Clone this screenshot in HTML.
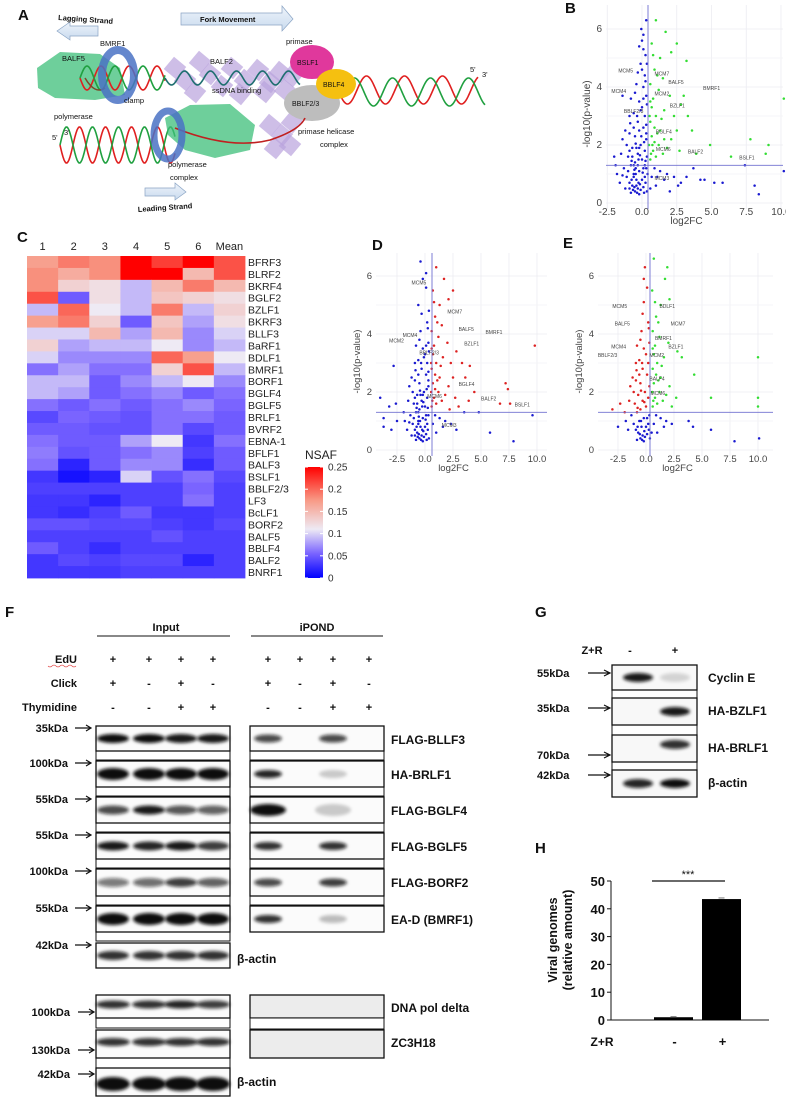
<!DOCTYPE html>
<html><head><meta charset="utf-8">
<style>
html,body{margin:0;padding:0;background:#fff;}
svg{display:block;font-family:"Liberation Sans",Arial,sans-serif;}
</style></head>
<body>
<svg id="fig" width="786" height="1102" viewBox="0 0 786 1102">
<defs>
<filter id="blur" x="-20%" y="-50%" width="140%" height="200%"><feGaussianBlur stdDeviation="1.6"/></filter>
<linearGradient id="nsaf" x1="0" y1="1" x2="0" y2="0">
<stop offset="0" stop-color="#0000ff"/><stop offset="0.22" stop-color="#7a64ff"/><stop offset="0.44" stop-color="#eeeaf4"/><stop offset="0.7" stop-color="#f89a86"/><stop offset="1" stop-color="#ff0000"/>
</linearGradient>
<linearGradient id="arrowfill" x1="0" y1="0" x2="0" y2="1"><stop offset="0" stop-color="#eef4fb"/><stop offset="1" stop-color="#c9daee"/></linearGradient>
</defs>
<g id="panelA"></g>
<g id="panelB"></g>
<g id="panelC"></g>
<g id="panelD"></g>
<g id="panelE"></g>
<g id="panelF"></g>
<g id="panelG"></g>
<g id="panelH"></g>
</svg>
<script>
// ---------- data ----------
const heatCols = ["1","2","3","4","5","6","Mean"];
const heatRows = ["BFRF3","BLRF2","BKRF4","BGLF2","BZLF1","BKRF3","BLLF3","BaRF1","BDLF1","BMRF1","BORF1","BGLF4","BGLF5","BRLF1","BVRF2","EBNA-1","BFLF1","BALF3","BSLF1","BBLF2/3","LF3","BcLF1","BORF2","BALF5","BBLF4","BALF2","BNRF1"];
const heatVals = [
[0.17,0.19,0.18,0.25,0.22,0.25,0.21],
[0.18,0.16,0.18,0.25,0.25,0.15,0.21],
[0.18,0.13,0.12,0.09,0.15,0.19,0.15],
[0.21,0.05,0.12,0.09,0.14,0.13,0.12],
[0.09,0.2,0.11,0.09,0.19,0.09,0.13],
[0.17,0.19,0.13,0.05,0.14,0.08,0.12],
[0.1,0.1,0.15,0.08,0.15,0.07,0.1],
[0.13,0.08,0.09,0.09,0.11,0.07,0.09],
[0.1,0.07,0.07,0.07,0.2,0.17,0.11],
[0.06,0.08,0.06,0.06,0.13,0.21,0.09],
[0.09,0.09,0.05,0.07,0.09,0.11,0.07],
[0.09,0.08,0.05,0.06,0.07,0.05,0.06],
[0.06,0.05,0.06,0.05,0.06,0.07,0.055],
[0.04,0.055,0.05,0.045,0.06,0.06,0.05],
[0.05,0.05,0.045,0.045,0.06,0.04,0.05],
[0.06,0.05,0.05,0.08,0.11,0.03,0.06],
[0.065,0.045,0.05,0.06,0.07,0.035,0.05],
[0.06,0.02,0.05,0.07,0.07,0.025,0.05],
[0.03,0.01,0.02,0.1,0.045,0.06,0.04],
[0.035,0.035,0.035,0.035,0.035,0.055,0.035],
[0.03,0.03,0.02,0.035,0.035,0.06,0.035],
[0.03,0.025,0.035,0.05,0.03,0.03,0.035],
[0.045,0.045,0.04,0.04,0.035,0.03,0.04],
[0.035,0.035,0.035,0.035,0.045,0.035,0.035],
[0.05,0.035,0.025,0.035,0.035,0.035,0.035],
[0.03,0.04,0.035,0.04,0.04,0.02,0.035],
[0.03,0.03,0.03,0.035,0.035,0.035,0.035]];
const nsafTicks = [0,0.05,0.1,0.15,0.2,0.25];

const volcXTicks = [-2.5,0,2.5,5,7.5,10];
const volcXTickLabels = ["-2.5","0.0","2.5","5.0","7.5","10.0"];
const volcYTicks = [0,2,4,6];

const volcB = [[-0.5,0.4],[-0.3,0.5],[-0.7,0.6],[-0.1,0.45],[0.1,0.55],[-0.9,0.7],[-0.4,0.8],[0.2,0.9],[-0.6,1.0],[-1.1,0.9],[-0.2,1.1],[0.3,1.2],[-0.8,1.3],[-1.3,1.2],[-0.5,1.4],[0.0,1.5],[-1.0,1.6],[-0.3,1.7],[0.2,1.8],[-0.7,1.9],[-1.5,1.7],[-0.1,2.0],[0.3,2.2],[-0.5,2.3],[-0.9,2.4],[0.1,2.6],[-0.3,2.8],[-1.2,2.5],[0.2,3.0],[-0.6,3.1],[0.0,3.3],[-0.2,3.5],[0.3,3.7],[-0.8,3.6],[-1.4,3.7],[0.1,4.0],[-0.4,4.1],[0.2,4.4],[0.0,4.6],[-0.1,4.8],[0.25,5.1],[-0.2,5.4],[0.1,5.8],[-0.05,6.0],[0.3,6.3],[0.0,5.6],[-2.0,1.6],[-1.8,1.0],[-1.6,0.7],[-1.2,0.5],[-0.8,0.35],[-0.2,0.3],[0.35,0.4],[-0.4,0.6],[-0.6,0.9],[0.0,0.8],[-1.0,1.1],[-0.3,1.3],[0.25,1.45],[-0.7,1.6],[-0.4,1.9],[0.15,2.1],[-1.1,2.0],[-0.6,2.6],[-0.2,2.5],[0.3,2.7],[-0.9,3.0],[-0.1,3.2],[0.35,3.4],[-0.5,3.8],[0.25,4.2],[-0.3,4.5],[0.35,4.8],[0.1,5.3],[-1.9,1.3],[-1.4,2.2],[-0.9,0.5],[0.4,1.0],[-0.55,1.15],[-0.15,1.65],[-0.05,2.3],[0.3,2.4],[-0.35,3.0],[0.1,3.6],[-0.65,0.45],[-0.25,0.7],[0.15,0.35],[-1.4,0.95],[-0.75,1.45],[0.05,1.05],[-0.45,2.05],[-0.85,2.75],[-0.45,1.2],[0.2,1.3],[-0.35,0.35],[-0.55,0.55],[-0.15,0.65],[0.25,0.7],[-0.75,0.8],[-0.45,1.0],[0.1,1.2],[-0.25,1.5],[-0.6,1.3],[0.35,1.6],[-0.9,1.8],[-0.2,1.9],
[0.7,0.9],[1.0,0.6],[1.3,1.1],[1.6,0.8],[2.0,0.4],[2.3,0.9],[2.8,0.7],[3.2,0.9],[3.7,1.2],[4.2,0.8],[4.5,0.8],[5.2,0.7],[5.8,0.7],[7.4,1.3],[8.1,0.6],[8.4,0.3],[10.2,1.1],[0.9,1.2],[1.8,1.0],[2.6,0.6],[0.6,0.5],[1.1,0.9],
[0.6,1.5],[0.8,1.8],[1.0,1.6],[1.2,2.0],[0.7,2.3],[1.5,1.7],[0.9,2.6],[1.8,1.9],[2.1,2.2],[0.6,2.8],[1.3,2.5],[2.5,2.5],[1.0,3.0],[0.7,3.3],[1.6,3.2],[2.8,3.4],[3.3,3.0],[0.8,3.6],[1.2,3.9],[2.0,3.7],[3.0,3.7],[0.6,4.1],[1.1,4.4],[1.5,4.3],[0.9,4.6],[1.3,5.0],[2.1,5.2],[0.8,5.1],[2.5,5.5],[1.7,5.9],[1.0,6.3],[3.2,4.9],[0.7,5.5],[3.9,1.7],[4.9,2.0],[6.4,1.6],[7.8,2.2],[9.1,2.0],[8.9,1.7],[10.2,3.6],[2.7,1.8],[0.5,2.0],[0.55,3.0],[1.4,2.9],[2.3,3.0],[3.6,2.5],[0.65,1.7],[0.9,2.1],[1.1,2.4],[0.6,3.5],[0.75,2.0],[1.6,2.2]];

const volcD = [[-0.5,0.4],[-0.3,0.5],[-0.7,0.6],[-0.1,0.45],[0.1,0.55],[-0.9,0.7],[-0.4,0.8],[0.2,0.9],[-0.6,1.0],[-1.1,0.9],[-0.2,1.1],[0.3,1.2],[-0.8,1.3],[-1.3,1.2],[-0.5,1.4],[0.0,1.5],[-1.0,1.6],[-0.3,1.7],[0.2,1.8],[-0.7,1.9],[-1.5,1.7],[-0.1,2.0],[0.3,2.2],[-0.5,2.3],[-0.9,2.4],[0.1,2.6],[-0.3,2.8],[-1.2,2.5],[0.2,3.0],[-0.6,3.1],[0.0,3.3],[-0.2,3.5],[0.3,3.7],[-0.8,3.6],[-0.4,4.1],[0.2,4.4],[-0.3,4.7],[-0.6,5.0],[0.1,5.6],[-0.2,5.9],[-0.4,6.5],[0.1,6.1],[-4.0,1.8],[-3.2,1.5],[-2.6,1.6],[-3.7,1.1],[-3.7,0.8],[-3.0,0.7],[-2.5,1.0],[-2.8,2.9],[-1.8,1.0],[-1.6,0.7],[-1.2,0.5],[-0.8,0.35],[-0.2,0.3],[0.35,0.4],[-0.6,0.9],[0.0,0.8],[-1.0,1.1],[0.25,1.45],[-0.7,1.6],[-0.4,1.9],[0.15,2.1],[-1.1,2.0],[-0.6,2.6],[0.3,2.7],[-0.9,3.0],[-0.1,3.2],[0.35,3.4],[-0.5,3.8],[0.25,4.2],[0.35,4.8],[-1.9,1.3],[-1.4,2.2],[-0.9,0.5],[-0.55,1.15],[-0.15,1.65],[0.3,2.4],[-0.35,3.0],[0.1,3.6],[-0.65,0.45],[-0.25,0.7],[0.15,0.35],[-1.4,0.95],[-0.75,1.45],[0.05,1.05],[-0.45,2.05],[-0.85,2.75],[-0.35,0.35],[-0.55,0.55],[-0.15,0.65],[0.25,0.7],[-0.75,0.8],[-0.45,1.0],[0.1,1.2],[-0.25,1.5],[-0.6,1.3],[-0.9,1.8],[-0.2,1.9],
[0.7,0.9],[1.0,0.6],[1.3,1.1],[1.6,0.8],[2.3,0.9],[2.8,0.7],[3.5,1.3],[5.8,0.6],[7.9,0.3],[9.6,1.2],[0.9,1.2],[1.8,1.0],[4.8,1.3],
[0.6,1.5],[0.8,1.8],[1.0,1.6],[1.2,2.0],[0.7,2.3],[1.5,1.7],[0.9,2.6],[1.8,1.9],[2.1,2.2],[0.6,2.8],[1.3,2.5],[2.5,2.5],[1.0,3.0],[0.7,3.3],[1.6,3.2],[2.8,3.4],[3.3,3.0],[0.8,3.6],[1.2,3.9],[2.0,3.7],[0.6,4.1],[1.1,4.4],[1.5,4.3],[0.9,4.6],[1.3,5.0],[2.1,5.2],[0.8,5.1],[2.5,5.5],[1.7,5.9],[1.0,6.3],[0.7,5.5],[3.9,1.7],[4.4,2.0],[4.0,2.9],[6.7,1.6],[7.6,1.6],[7.2,2.3],[7.4,2.1],[9.8,3.6],[2.7,1.8],[0.55,2.0],[0.55,3.0],[1.4,2.9],[2.3,3.0],[3.6,2.5],[0.65,1.7],[0.9,2.1],[1.1,2.4],[0.6,3.5],[3.0,1.5],[2.2,1.4]];

const volcE = [[-0.5,0.4],[-0.3,0.5],[-0.7,0.6],[-0.1,0.45],[0.1,0.55],[-0.9,0.7],[-0.4,0.8],[0.2,0.9],[-0.6,1.0],[-1.1,0.9],[-0.2,1.1],[0.3,1.2],[-1.3,1.2],[-0.8,0.35],[-0.2,0.3],[0.35,0.4],[0.0,0.8],[0.7,0.9],[1.0,0.6],[1.3,1.1],[1.6,0.8],[2.3,0.9],[3.8,1.0],[4.2,0.8],[5.8,0.7],[7.9,0.3],[10.1,0.4],[-1.8,1.0],[-1.6,0.7],[-2.5,0.8],[0.9,1.2],[1.8,1.0],[-0.35,0.35],[-0.55,0.55],[-0.15,0.65],[0.25,0.7],[-0.75,0.8],[-0.45,1.0],[0.1,1.1],[0.5,0.6],
[-0.8,1.3],[-0.5,1.4],[0.0,1.5],[-1.0,1.6],[-0.3,1.7],[0.2,1.8],[-0.7,1.9],[-1.5,1.7],[-0.1,2.0],[0.3,2.2],[-0.5,2.3],[-0.9,2.4],[0.1,2.6],[-0.3,2.8],[-1.2,2.5],[0.2,3.0],[-0.6,3.1],[0.0,3.3],[-0.2,3.5],[0.3,3.7],[-0.8,3.6],[-0.4,4.1],[0.2,4.4],[-0.3,4.7],[-0.2,5.1],[0.1,5.6],[-0.2,5.9],[-0.1,6.3],[-3.0,1.4],[-2.3,1.6],[-1.9,1.3],[-1.4,2.2],[-1.1,2.0],[-0.6,2.6],[-0.9,3.0],[-0.5,3.8],[0.25,4.2],[-0.75,1.45],[-0.45,2.05],[-0.85,2.75],[-0.15,1.65],[-0.35,3.0],
[0.6,1.5],[0.8,1.8],[1.0,1.6],[1.2,2.0],[0.7,2.3],[1.5,1.7],[0.9,2.6],[1.8,1.9],[2.1,2.2],[0.6,2.8],[1.3,2.5],[1.0,3.0],[0.7,3.3],[1.6,3.2],[2.8,3.4],[0.8,3.6],[1.2,3.9],[2.0,3.7],[0.6,4.1],[1.1,4.4],[0.9,4.6],[1.3,5.0],[2.1,5.2],[0.8,5.1],[1.7,5.9],[0.7,6.6],[1.9,6.3],[0.55,5.5],[3.2,3.2],[4.3,2.6],[5.8,1.8],[10.0,3.2],[10.0,1.8],[10.0,1.5],[2.7,1.8],[0.55,2.0],[1.4,2.9],[2.3,1.5],[0.65,1.7],[1.1,2.4],[0.6,3.5]];

const barCats = ["-","+"];
const barVals = [1.0,43.5];
const barErr = [0.2,0.4];
const barTicks = [0,10,20,30,40,50];

// ---------- helpers ----------
const NS="http://www.w3.org/2000/svg";
function el(parent,tag,attrs,text){const e=document.createElementNS(NS,tag);for(const k in attrs)e.setAttribute(k,attrs[k]);if(text!==undefined)e.textContent=text;parent.appendChild(e);return e;}
function txt(parent,x,y,s,size,extra){const a=Object.assign({x:x,y:y,'font-size':size,fill:'#111'},extra||{});return el(parent,'text',a,s);}
function lerp(a,b,t){return a+(b-a)*t;}
function heatColor(v){
  const stops=[[0,[0,0,255]],[0.055,[122,100,255]],[0.11,[238,234,244]],[0.175,[248,154,134]],[0.25,[255,0,0]]];
  v=Math.max(0,Math.min(0.25,v));
  for(let i=0;i<stops.length-1;i++){const[a,ca]=stops[i],[b,cb]=stops[i+1];if(v<=b){const t=(v-a)/(b-a);return `rgb(${Math.round(lerp(ca[0],cb[0],t))},${Math.round(lerp(ca[1],cb[1],t))},${Math.round(lerp(ca[2],cb[2],t))})`;}}
  return 'rgb(255,0,0)';
}

// ---------- Panel A (schematic) ----------
(function(){
const g=document.getElementById('panelA');
function helix(x0,x1,yc,amp,per,ph,color,w){let d='';for(let x=x0;x<=x1;x+=1){const y=yc+amp*Math.sin((x-x0)/per*2*Math.PI+ph);d+=(d?'L':'M')+x+','+y.toFixed(1);}return el(g,'path',{d:d,fill:'none',stroke:color,'stroke-width':w||1.6});}
txt(g,18,20,'A',15,{'font-weight':'bold'});
el(g,'polygon',{points:'98,26 70,26 70,22 57,31 70,40 70,36 98,36',fill:'url(#arrowfill)',stroke:'#8aa4c4','stroke-width':0.7});
txt(g,58,20,'Lagging Strand',7.5,{'font-weight':'bold',transform:'rotate(4 58 20)'});
el(g,'polygon',{points:'181,13 282,13 282,6 293,19 282,31 282,25 181,25',fill:'url(#arrowfill)',stroke:'#8aa4c4','stroke-width':0.7});
txt(g,200,22,'Fork Movement',7.5,{'font-weight':'bold'});
el(g,'path',{d:'M37,68 L60,52 L100,54 L120,68 L125,95 L95,100 L55,98 L38,88 Z',fill:'#3dbf7a','fill-opacity':0.75});
const pur=[[175,68],[185,80],[195,92],[210,74],[222,86],[232,68],[245,80],[258,70],[270,82],[280,72],[292,76],[200,62],[240,94],[265,92],[285,90],[270,125],[282,135],[292,122],[275,148],[290,145]];
pur.forEach(p=>el(g,'rect',{x:p[0]-8,y:p[1]-8,width:16,height:16,fill:'#b9a2dd','fill-opacity':0.7,transform:`rotate(40 ${p[0]} ${p[1]})`}));
helix(80,165,78,12,28,0,'#e02020',1.6);
helix(80,165,78,12,28,Math.PI,'#20a040',1.6);
el(g,'path',{d:'M85,78 Q95,95 105,88',stroke:'#7a4a2a','stroke-width':1.5,fill:'none'});
helix(165,300,78,7,26,0,'#1f6f70',1.6);
el(g,'ellipse',{cx:118,cy:75,rx:16,ry:25,fill:'none',stroke:'#4a72c4','stroke-width':8,'stroke-opacity':0.85});
txt(g,100,46,'BMRF1',7.5);
txt(g,62,61,'BALF5',7.5);
txt(g,124,103,'clamp',7.5);
txt(g,54,119,'polymerase',7.5);
txt(g,210,64,'BALF2',7.5);
txt(g,212,93,'ssDNA binding',7.5);
txt(g,286,44,'primase',7.5);
helix(338,478,90,14,38,0,'#e02020',1.6);
helix(345,485,92,14,38,Math.PI,'#20a040',1.6);
txt(g,470,72,"5'",7.5);txt(g,482,77,"3'",7.5);
el(g,'ellipse',{cx:312,cy:62,rx:22,ry:17,fill:'#e0389c'});
txt(g,297,65,'BSLF1',7);
el(g,'ellipse',{cx:312,cy:103,rx:28,ry:18,fill:'#bdbdbd'});
txt(g,292,106,'BBLF2/3',7);
el(g,'ellipse',{cx:336,cy:84,rx:20,ry:15,fill:'#f5c010'});
txt(g,323,87,'BBLF4',7);
helix(60,175,145,18,26,0,'#e02020',1.6);
helix(60,175,145,18,26,Math.PI,'#20a040',1.6);
txt(g,52,140,"5'",7.5);txt(g,64,135,"3'",7.5);
el(g,'path',{d:'M165,118 L190,105 L230,104 L255,125 L250,150 L215,158 L185,150 L168,135 Z',fill:'#3dbf7a','fill-opacity':0.75});
el(g,'path',{d:'M175,128 Q230,150 270,140 Q300,130 305,118',stroke:'#c02020','stroke-width':1.6,fill:'none'});
el(g,'ellipse',{cx:168,cy:135,rx:14,ry:24,fill:'none',stroke:'#4a72c4','stroke-width':7,'stroke-opacity':0.85});
txt(g,298,134,'primase helicase',7.5);
txt(g,320,147,'complex',7.5);
txt(g,168,167,'polymerase',7.5);
txt(g,170,180,'complex',7.5);
el(g,'polygon',{points:'145,188 175,188 175,183 186,192 175,200 175,196 145,196',fill:'url(#arrowfill)',stroke:'#8aa4c4','stroke-width':0.7});
txt(g,138,212,'Leading Strand',7.5,{'font-weight':'bold',transform:'rotate(-4 138 212)'});
})();

// ---------- Volcano plots ----------
function volcano(id,letter,lx,ly,cfg,pts,colorFn,labels){
  const g=document.getElementById(id);
  const sx=v=>cfg.x0+v*cfg.kx, sy=v=>cfg.y0-v*cfg.ky;
  txt(g,lx,ly,letter,15,{'font-weight':'bold'});
  volcXTicks.forEach(t=>{el(g,'line',{x1:sx(t),x2:sx(t),y1:cfg.top,y2:cfg.y0+6,stroke:'#ececf2','stroke-width':0.8});});
  for(let t=0;t<=6;t++){el(g,'line',{x1:cfg.left,x2:cfg.right,y1:sy(t),y2:sy(t),stroke:t%2?'#f3f3f6':'#ececf2','stroke-width':0.8});}
  volcXTicks.forEach((t,i)=>{const e=txt(g,sx(t),cfg.y0+12,volcXTickLabels[i],cfg.fs,{'text-anchor':'middle',fill:'#444'});});
  volcYTicks.forEach(t=>{const e=txt(g,cfg.left-4,sy(t)+3,String(t),cfg.fs,{'text-anchor':'end',fill:'#444'});});
  const xt=txt(g,(cfg.left+cfg.right)/2-8,cfg.y0+21,'log2FC',cfg.fs,{'text-anchor':'middle',fill:'#444'});
  
  const yx=cfg.left-16, yy=(cfg.top+cfg.y0)/2+10;
  const yt=txt(g,yx,yy,'-log10(p-value)',cfg.fs,{'text-anchor':'middle',fill:'#444',transform:`rotate(-90 ${yx} ${yy})`});
  
  pts.forEach(p=>{
    const c=el(g,'circle',{cx:sx(p[0]).toFixed(1),cy:sy(p[1]).toFixed(1),r:1.25,fill:colorFn(p)});
    
    
  });
  el(g,'line',{x1:cfg.vx,x2:cfg.vx,y1:cfg.top,y2:cfg.y0+6,stroke:'#7070d0','stroke-width':0.9});
  el(g,'line',{x1:cfg.left,x2:cfg.right,y1:sy(1.3),y2:sy(1.3),stroke:'#7070d0','stroke-width':0.9});
  labels.forEach(l=>txt(g,sx(l[1]),sy(l[2]),l[0],5,{fill:'#444'}));
}
volcano('panelB','B',565,13,{x0:642,kx:13.9,y0:203,ky:29,top:5,left:606,right:783,vx:648,fs:10},volcB,
  p=>(p[0]>0.45&&p[1]>1.3)?'#33dd33':'#1a1ad0',
  [['MCM5',-1.7,4.5],['MCM7',0.9,4.4],['BALF5',1.9,4.1],['BMRF1',4.4,3.9],['MCM4',-2.2,3.8],['MCM2',0.9,3.7],['BZLF1',2.0,3.3],['BBLF2/3',-1.3,3.1],['BGLF4',1.0,2.4],['MCM6',1.0,1.8],['BALF2',3.3,1.7],['BSLF1',7.0,1.5],['MCM3',0.9,0.8]]);
volcano('panelD','D',372,250,{x0:425,kx:11.2,y0:450,ky:29,top:253,left:376,right:547,vx:432,fs:9.5},volcD,
  p=>(p[0]>0.45&&p[1]>1.3)?'#dd2222':'#1a1ad0',
  [['MCM5',-1.2,5.7],['MCM7',2.0,4.7],['BALF5',3.0,4.1],['BMRF1',5.4,4.0],['MCM4',-2.0,3.9],['MCM2',-3.2,3.7],['BZLF1',3.5,3.6],['BBLF2/3',-0.5,3.3],['BGLF4',3.0,2.2],['BALF2',5.0,1.7],['BSLF1',8.0,1.5],['MCM6',0.2,1.8],['MCM3',1.5,0.8]]);
volcano('panelE','E',563,248,{x0:646,kx:11.2,y0:450,ky:29,top:253,left:598,right:773,vx:650,fs:9.5},volcE,
  p=>(p[1]<1.3)?'#1a1ad0':(p[0]<0.45?'#dd2222':'#33dd33'),
  [['MCM5',-3.0,4.9],['BDLF1',1.2,4.9],['BALF5',-2.8,4.3],['MCM7',2.2,4.3],['BMRF1',0.8,3.8],['MCM4',-3.1,3.5],['BZLF1',2.0,3.5],['BBLF2/3',-4.3,3.2],['MCM2',0.3,3.2],['BALF4',0.3,2.4],['MCM6',0.4,1.9]]);

// ---------- Panel C heatmap ----------
(function(){
const g=document.getElementById('panelC');
txt(g,17,242,'C',15,{'font-weight':'bold'});
const L=27,T=256,W=218,H=322,cw=W/heatCols.length,rh=H/heatRows.length;
heatCols.forEach((c,i)=>{const e=txt(g,L+cw*(i+0.5),250,c,11,{'text-anchor':'middle',fill:'#222'});});
heatRows.forEach((r,j)=>{
  heatCols.forEach((c,i)=>{
    const cell=el(g,'rect',{x:(L+cw*i).toFixed(2),y:(T+rh*j).toFixed(2),width:(cw+0.4).toFixed(2),height:(rh+0.4).toFixed(2),fill:heatColor(heatVals[j][i])});
    
    
  });
  const lab=txt(g,L+W+3,T+rh*(j+0.5)+4,r,10.5,{fill:'#222'});
  
  
});
txt(g,305,459,'NSAF',12,{fill:'#222'});
const cbT=467,cbB=578;
el(g,'rect',{x:305,y:cbT,width:18,height:cbB-cbT,fill:'url(#nsaf)'});
nsafTicks.forEach(t=>{const y=cbB-(t/0.25)*(cbB-cbT);
  el(g,'line',{x1:305,x2:308,y1:y,y2:y,stroke:'#fff','stroke-width':1});el(g,'line',{x1:320,x2:323,y1:y,y2:y,stroke:'#fff','stroke-width':1});
  const e=txt(g,328,y+3.5,String(t),10,{fill:'#333'});});
})();

// ---------- Panel F blots ----------
(function(){
const g=document.getElementById('panelF');
txt(g,5,617,'F',15,{'font-weight':'bold'});
txt(g,166,631,'Input',11,{'font-weight':'bold','text-anchor':'middle'});
el(g,'line',{x1:97,x2:230,y1:636,y2:636,stroke:'#111','stroke-width':1});
txt(g,317,631,'iPOND',11,{'font-weight':'bold','text-anchor':'middle'});
el(g,'line',{x1:251,x2:383,y1:636,y2:636,stroke:'#111','stroke-width':1});
const laneIn=[113,149,181,213], laneIP=[268,300,333,369];
const rows=[['EdU',663,['+','+','+','+'],['+','+','+','+']],['Click',687,['+','-','+','-'],['+','-','+','-']],['Thymidine',711,['-','-','+','+'],['-','-','+','+']]];
rows.forEach(r=>{txt(g,77,r[1],r[0],11,{'font-weight':'bold','text-anchor':'end'});
  r[2].forEach((s,i)=>txt(g,laneIn[i],r[1],s,11,{'font-weight':'bold','text-anchor':'middle'}));
  r[3].forEach((s,i)=>txt(g,laneIP[i],r[1],s,11,{'font-weight':'bold','text-anchor':'middle'}));});
el(g,'path',{d:'M48,666 q2,2 4,0 q2,-2 4,0 q2,2 4,0 q2,-2 4,0 q2,2 4,0 q2,-2 4,0 q2,2 4,0',stroke:'#e04040','stroke-width':0.6,fill:'none'});
function blot(x0,x1,y0,y1,bands,bg){
  el(g,'rect',{x:x0,y:y0,width:x1-x0,height:y1-y0,fill:bg||'#fbfbfb',stroke:'#111','stroke-width':1.3});
  bands.forEach(b=>{if(b[1]<=0)return;el(g,'ellipse',{cx:b[0],cy:(y0+y1)/2+(b[3]||0),rx:b[2]||15,ry:(b[4]||4.5),fill:'#111','fill-opacity':b[1],filter:'url(#blur)'});});
}
function spacer(x0,x1,y0,y1){el(g,'rect',{x:x0,y:y0,width:x1-x0,height:y1-y0,fill:'#fff',stroke:'#111','stroke-width':1});}
const blots=[
 {y0:726,y1:751,kda:'35kDa',lab:'FLAG-BLLF3',inB:[1,1,0.95,0.95],ipB:[0.75,0,0.75,0],spacer:true},
 {y0:761,y1:787,kda:'100kDa',lab:'HA-BRLF1',inB:[1,1,1,1],ipB:[0.9,0,0.2,0],spacer:true},
 {y0:797,y1:823,kda:'55kDa',lab:'FLAG-BGLF4',inB:[0.75,0.95,0.7,0.65],ipB:[1,0,0.2,0],spacer:true},
 {y0:833,y1:859,kda:'55kDa',lab:'FLAG-BGLF5',inB:[0.95,0.9,0.95,0.8],ipB:[0.85,0,0.85,0],spacer:true},
 {y0:869,y1:896,kda:'100kDa',lab:'FLAG-BORF2',inB:[0.55,0.6,0.8,0.65],ipB:[0.75,0,0.8,0],spacer:true},
 {y0:906,y1:932,kda:'55kDa',lab:'EA-D (BMRF1)',inB:[1,1,1,1],ipB:[0.85,0,0.25,0],spacer:true},
 {y0:943,y1:968,kda:'42kDa',lab:'β-actin',inB:[0.85,0.85,0.85,0.85],ipB:null}];
blots.forEach((b,i)=>{
  if(b.spacer)spacer(96,230,b.y1,b.y1+9);
  blot(96,230,b.y0,b.y1,b.inB.map((v,k)=>[laneIn[k],v,16,0,i===1||i===5?6:4.5]));
  if(b.ipB){if(i<5)spacer(250,384,b.y1,b.y1+9);blot(250,384,b.y0,b.y1,b.ipB.map((v,k)=>[laneIP[k],v,i===2?18:14,0,i===2?6:4]));
    txt(g,391,b.y0+18,b.lab,12,{'font-weight':'bold'});}
  else txt(g,237,b.y0+20,b.lab,12,{'font-weight':'bold'});
  txt(g,68,b.y0+6,b.kda,11,{'font-weight':'bold','text-anchor':'end'});
  el(g,'path',{d:`M75,${b.y0+2} L90,${b.y0+2} M86,${b.y0-1} L91,${b.y0+2} L86,${b.y0+5}`,stroke:'#111','stroke-width':1.2,fill:'none'});
});
const low=[{y0:995,y1:1018,kda:'100kDa',ky:1016,lab:'DNA pol delta',inB:[0.85,0.85,0.9,0.8]},{y0:1030,y1:1058,kda:'130kDa',ky:1054,lab:'ZC3H18',inB:[0.85,0.85,0.85,0.85]},{y0:1068,y1:1096,kda:'42kDa',ky:1078,lab:'β-actin',inB:[1,1,1,1]}];
low.forEach((b,i)=>{
  if(i<2){spacer(96,230,b.y1,b.y1+10);}
  blot(96,230,b.y0,b.y1,b.inB.map((v,k)=>[laneIn[k],v,17,i===2?2:-2,i===2?7:4]));
  if(i<2){blot(250,384,b.y0,b.y1,[],'#ececec');txt(g,391,b.y0+17,b.lab,12,{'font-weight':'bold'});if(i===0)spacer(250,384,b.y1,b.y1+11);}
  else txt(g,237,b.y0+18,b.lab,12,{'font-weight':'bold'});
  txt(g,70,b.ky,b.kda,11,{'font-weight':'bold','text-anchor':'end'});
  el(g,'path',{d:`M78,${b.ky-4} L93,${b.ky-4} M89,${b.ky-7} L94,${b.ky-4} L89,${b.ky-1}`,stroke:'#111','stroke-width':1.2,fill:'none'});
});
})();

// ---------- Panel G ----------
(function(){
const g=document.getElementById('panelG');
txt(g,535,617,'G',15,{'font-weight':'bold'});
txt(g,592,654,'Z+R',11,{'font-weight':'bold','text-anchor':'middle'});
txt(g,630,654,'-',11,{'font-weight':'bold','text-anchor':'middle'});
txt(g,675,654,'+',11,{'font-weight':'bold','text-anchor':'middle'});
const L=612,R=697,lanes=[638,675];
const gb=[{y0:665,y1:690,kda:'55kDa',ky:673,lab:'Cyclin E',b:[0.95,0.15]},{y0:698,y1:725,kda:'35kDa',ky:708,lab:'HA-BZLF1',b:[0,0.95]},{y0:735,y1:762,kda:'70kDa',ky:755,lab:'HA-BRLF1',b:[0,0.85]},{y0:770,y1:797,kda:'42kDa',ky:775,lab:'β-actin',b:[0.9,1]}];
gb.forEach((b,i)=>{
  if(i<3)el(g,'rect',{x:L,y:b.y1,width:R-L,height:(gb[i+1].y0-b.y1),fill:'#fff',stroke:'#111','stroke-width':1});
  el(g,'rect',{x:L,y:b.y0,width:R-L,height:b.y1-b.y0,fill:'#f8f8f8',stroke:'#111','stroke-width':1.3});
  b.b.forEach((v,k)=>{if(v>0)el(g,'ellipse',{cx:lanes[k],cy:(b.y0+b.y1)/2-(i===2?4:0),rx:15,ry:4.5,fill:'#111','fill-opacity':v,filter:'url(#blur)'});});
  txt(g,708,b.y0+17,b.lab,12,{'font-weight':'bold'});
  txt(g,537,b.ky+4,b.kda,11,{'font-weight':'bold'});
  el(g,'path',{d:`M588,${b.ky} L609,${b.ky} M604,${b.ky-3} L610,${b.ky} L604,${b.ky+3}`,stroke:'#111','stroke-width':1.2,fill:'none'});
});
})();

// ---------- Panel H bar chart ----------
(function(){
const g=document.getElementById('panelH');
txt(g,535,853,'H',15,{'font-weight':'bold'});
const x0=611,x1=769,y0=1020,ky=(1020-881)/50;
const sy=v=>y0-v*ky;
el(g,'line',{x1:x0,x2:x0,y1:sy(50),y2:y0,stroke:'#111','stroke-width':1});
el(g,'line',{x1:x0,x2:x1,y1:y0,y2:y0,stroke:'#111','stroke-width':1});
barTicks.forEach(t=>{el(g,'line',{x1:x0-4,x2:x0,y1:sy(t),y2:sy(t),stroke:'#111','stroke-width':1});
  const e=txt(g,x0-6,sy(t)+5,String(t),13,{'font-weight':'bold','text-anchor':'end'});});
const bw=39,centers=[673.5,721.5];
barCats.forEach((c,i)=>{
  const bar=el(g,'rect',{x:centers[i]-bw/2,y:sy(barVals[i]),width:bw,height:y0-sy(barVals[i]),fill:'#000'});
  
  
  el(g,'line',{x1:centers[i]-3,x2:centers[i]+3,y1:sy(barVals[i]+barErr[i]),y2:sy(barVals[i]+barErr[i]),stroke:'#777','stroke-width':1});
  const l=txt(g,centers[i]+1,1046,c,13,{'font-weight':'bold','text-anchor':'middle'});
  
  
});
txt(g,602,1046,'Z+R',12,{'font-weight':'bold','text-anchor':'middle'});
el(g,'line',{x1:652,x2:725,y1:881,y2:881,stroke:'#111','stroke-width':1.2});
txt(g,688,878,'***',11,{'text-anchor':'middle'});
const t1=txt(g,557,940,'Viral genomes',12.5,{'font-weight':'bold','text-anchor':'middle',transform:'rotate(-90 557 940)'});

txt(g,572,940,'(relative amount)',12.5,{'font-weight':'bold','text-anchor':'middle',transform:'rotate(-90 572 940)'});
})();
</script>
</body></html>
